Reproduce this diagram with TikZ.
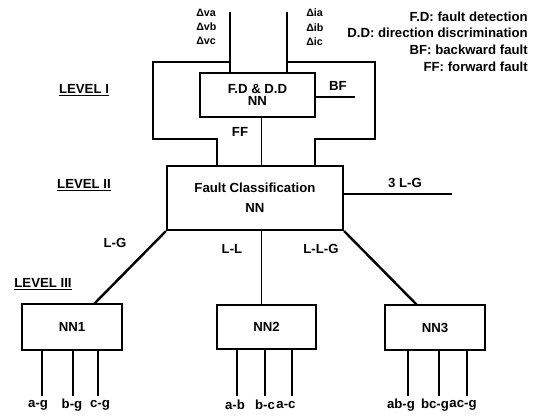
\documentclass[tikz,border=0pt]{standalone}
\usepackage{fontspec}
\setmainfont{Liberation Sans}
\begin{document}
\begin{tikzpicture}[x=0.75pt,y=-0.75pt,
  every node/.style={font=\bfseries\fontsize{9.9}{11}\selectfont, inner sep=0pt},
  nnbox/.style={draw, line width=1.6pt, rectangle, align=center},
  thin/.style={line width=0.9pt},
  thick2/.style={line width=1.6pt},
  lbl/.style={anchor=center},
  small/.style={font=\bfseries\fontsize{8}{10.6}\selectfont, align=left, anchor=north west},
  legend/.style={anchor=east}
]
\useasboundingbox (0,0) rectangle (536,416);

% boxes
\node[nnbox, minimum width=115*0.75pt, minimum height=44*0.75pt, font=\bfseries\fontsize{9.9}{9.5}\selectfont] (fd) at (257.5,95) {F.D \& D.D\\NN};
\node[nnbox, minimum width=176*0.75pt, minimum height=64*0.75pt, font=\bfseries\fontsize{9.9}{15}\selectfont] (fc) at (255,198) {Fault Classification\\NN};
\node[nnbox, minimum width=100*0.75pt, minimum height=46*0.75pt] (nn1) at (72,327) {NN1};
\node[nnbox, minimum width=99*0.75pt, minimum height=44*0.75pt] (nn2) at (266.5,327) {NN2};
\node[nnbox, minimum width=100*0.75pt, minimum height=45*0.75pt] (nn3) at (435,327.5) {NN3};

% inputs
\node[small] (dv) at (196,9) {Δva\\Δvb\\Δvc};
\node[small] (di) at (306,9) {Δia\\Δib\\Δic};

% legend
\node[legend] (lg1) at (528,16.5) {F.D: fault detection};
\node[legend] (lg2) at (528,33) {D.D: direction discrimination};
\node[legend] (lg3) at (528,50) {BF: backward fault};
\node[legend] (lg4) at (528,67) {FF: forward fault};

% level labels
\node[lbl] (lv1) at (84,90) {\underline{LEVEL I}};
\node[lbl] (lv2) at (84,185) {\underline{LEVEL II}};
\node[lbl] (lv3) at (43,284) {\underline{LEVEL III}};

% connector labels
\node[lbl] (bf) at (338,86) {BF};
\node[lbl] (ff) at (240,132) {FF};
\node[lbl] (tlgl) at (405,183) {3 L-G};
\node[lbl] (lgl) at (115,243) {L-G};
\node[lbl] (lll) at (232,249) {L-L};
\node[lbl] (llgl) at (321,249) {L-L-G};

% coordinates
\coordinate (inL) at (230,12);
\coordinate (jL) at (230,62);
\coordinate (l1) at (153,62);
\coordinate (l2) at (217,139);
\coordinate (inR) at (287,12);
\coordinate (jR) at (287,62);
\coordinate (r1) at (375,139);
\coordinate (r2) at (315,139);
\coordinate (bfend) at (355,97);
\coordinate (llx) at (261.5,0);
\coordinate (tlg) at (452,194);
\coordinate (lgend) at (94,304);
\coordinate (llgend) at (417,305);

% level I wiring
\draw[thin] (inL) -- (inL |- fd.north);
\draw[thin] (jL) -| (l1) |- (l2) -- (l2 |- fc.north);
\draw[thin] (inR) -- (inR |- fd.north);
\draw[thin] (jR) -| (r1) -- (r2) -- (r2 |- fc.north);
\draw[thick2] (bfend -| fd.east) -- (bfend);
\draw[thin] (fd.south -| llx) -- (fc.north -| llx);

% level II wiring
\draw[thick2] (tlg -| fc.east) -- (tlg);
\draw[line width=1.8pt] (fc.south west) -- (lgend);
\draw[thin] (fc.south -| llx) -- (nn2.north -| llx);
\draw[line width=1.8pt] (fc.south east) -- (llgend);

% outputs
\foreach \nm/\n/\xl/\xt/\txt in {a/nn1/42/38/a-g, b/nn1/73/72/b-g, c/nn1/98/100/c-g,
  d/nn2/237/235/a-b, e/nn2/265/265/b-c, f/nn2/292/286/a-c,
  g/nn3/408/401/ab-g, h/nn3/439/435/bc-g, i/nn3/467/463/ac-g}{
  \coordinate (o\nm) at (\xl,396);
  \node[lbl] (t\nm) at (\xt,405) {\txt};
  \draw[thin] (\n.south -| o\nm) -- (o\nm);
}
\end{tikzpicture}
\end{document}
